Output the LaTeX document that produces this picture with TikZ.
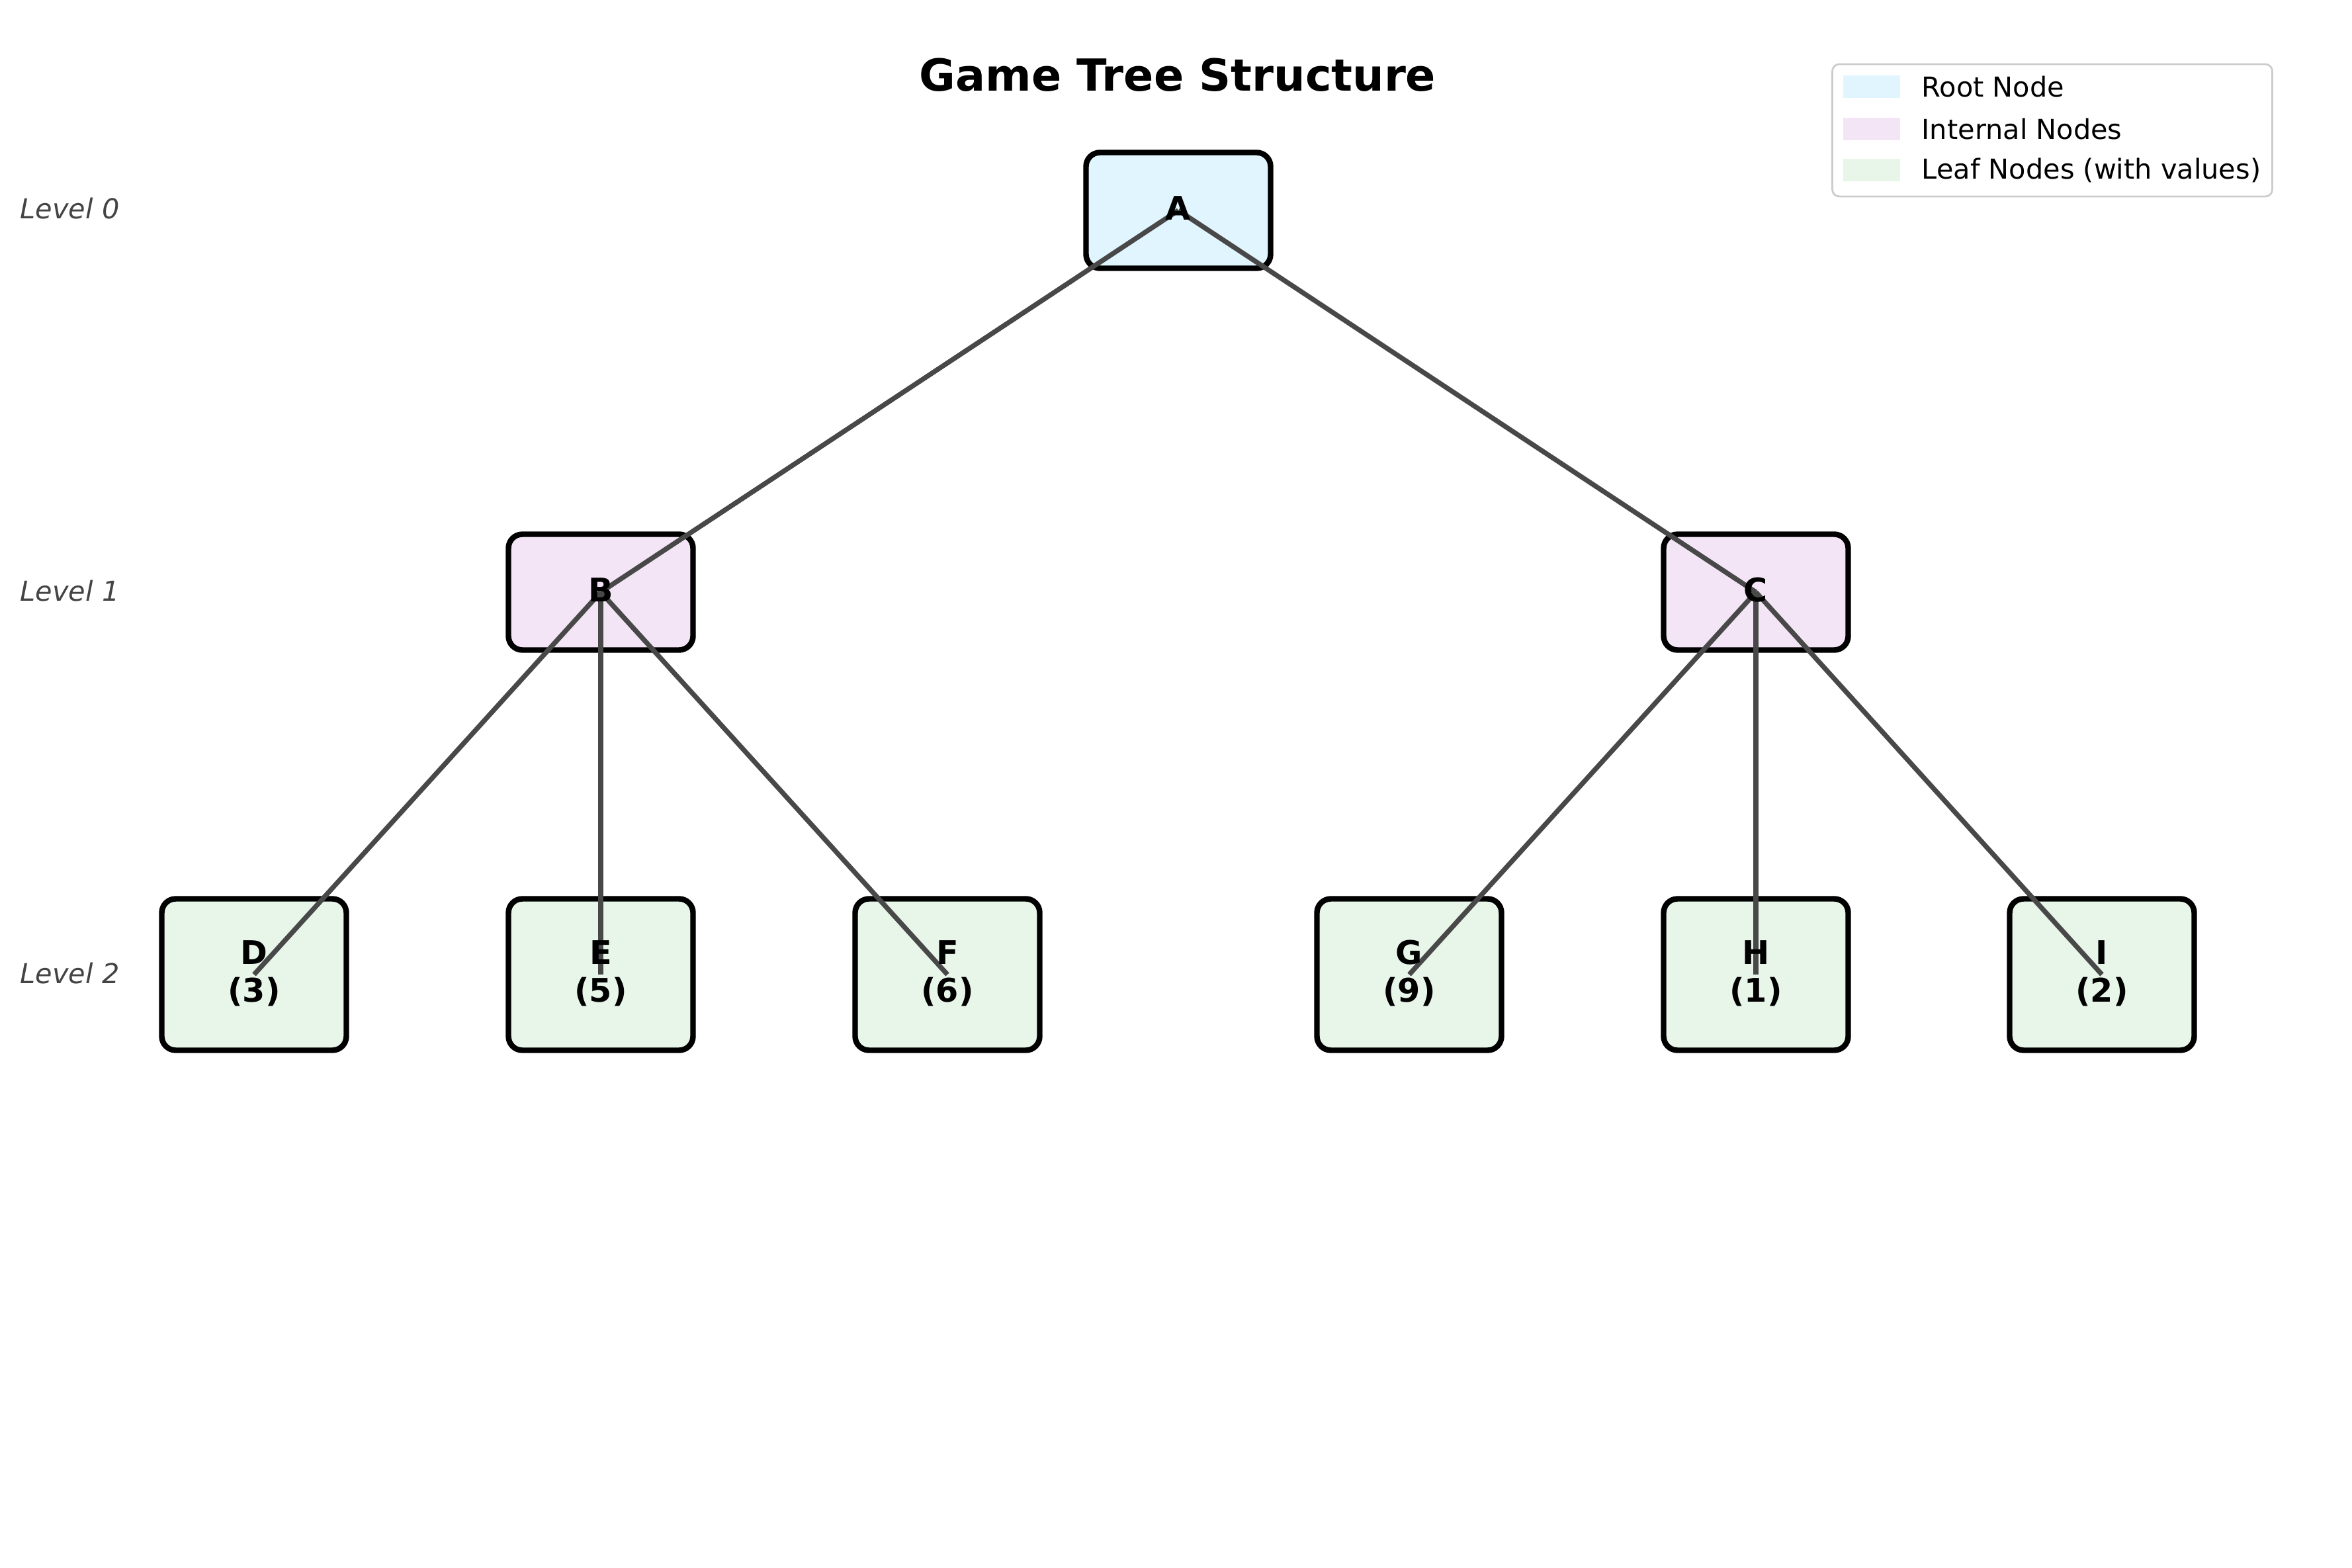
\documentclass[tikz,border=0pt]{standalone}
\usepackage{fontspec}
\setmainfont{DejaVu Sans}
\usepackage{xcolor}
\usepackage{tikz}
\usetikzlibrary{positioning}
\definecolor{rootfill}{HTML}{E1F5FE}
\definecolor{innerfill}{HTML}{F3E5F5}
\definecolor{leaffill}{HTML}{E8F5E9}
\definecolor{edgegrey}{HTML}{484848}
\definecolor{levelgrey}{HTML}{444444}
\definecolor{legendgrey}{HTML}{CCCCCC}

\begin{document}
\begin{tikzpicture}[
  rootbox/.style={draw=black, line width=2.4pt, rounded corners=6pt, fill=rootfill,
    minimum width=2.79cm, minimum height=1.75cm, inner sep=0pt},
  innerbox/.style={rootbox, fill=innerfill},
  leafbox/.style={rootbox, fill=leaffill, minimum height=2.29cm},
  lbl/.style={align=center, font=\fontsize{14}{16.2}\selectfont\bfseries, inner sep=0pt},
  edge/.style={draw=edgegrey, line width=2.1pt},
  level/.style={anchor=west, text=levelgrey, font=\fontsize{11.8}{14}\selectfont\itshape, inner sep=0pt},
  legtext/.style={anchor=west, font=\fontsize{11.8}{14}\selectfont, inner sep=0pt},
  patch/.style={minimum width=0.86cm, minimum height=0.34cm, inner sep=0pt}]

  \useasboundingbox (0,0) rectangle (35.55,-23.70);

  \node[font=\fontsize{19}{22}\selectfont\bfseries] (title) at (17.80,-1.13) {Game Tree Structure};

  % boxes
  \node[rootbox] (A) at (17.81,-3.18) {};
  \node[innerbox] (B) at (9.08,-8.95) {};
  \node[innerbox] (C) at (26.54,-8.95) {};
  \node[leafbox] (D) at (3.84,-14.73) {};
  \node[leafbox] (E) at (9.08,-14.73) {};
  \node[leafbox] (F) at (14.32,-14.73) {};
  \node[leafbox] (G) at (21.30,-14.73) {};
  \node[leafbox] (H) at (26.54,-14.73) {};
  \node[leafbox] (I) at (31.77,-14.73) {};

  % edges
  \draw[edge] (A.center) -- (B.center);
  \draw[edge] (A.center) -- (C.center);
  \draw[edge] (B.center) -- (D.center);
  \draw[edge] (B.center) -- (E.center);
  \draw[edge] (B.center) -- (F.center);
  \draw[edge] (C.center) -- (G.center);
  \draw[edge] (C.center) -- (H.center);
  \draw[edge] (C.center) -- (I.center);

  % labels
  \node[lbl] (Atxt) at ([yshift=0.03cm]A.center) {A};
  \node[lbl] (Btxt) at ([yshift=0.03cm]B.center) {B};
  \node[lbl] (Ctxt) at ([yshift=0.03cm]C.center) {C};
  \node[lbl] (Dtxt) at ([yshift=0.02cm]D.center) {D\\(3)};
  \node[lbl] (Etxt) at ([yshift=0.02cm]E.center) {E\\(5)};
  \node[lbl] (Ftxt) at ([yshift=0.02cm]F.center) {F\\(6)};
  \node[lbl] (Gtxt) at ([yshift=0.02cm]G.center) {G\\(9)};
  \node[lbl] (Htxt) at ([yshift=0.02cm]H.center) {H\\(1)};
  \node[lbl] (Itxt) at ([yshift=0.02cm]I.center) {I\\(2)};

  \node[level] (lev0) at (0.30,-3.15) {Level 0};
  \node[level] (lev1) at (0.30,-8.93) {Level 1};
  \node[level] (lev2) at (0.30,-14.71) {Level 2};

  % legend
  \node[draw=legendgrey, line width=0.8pt, rounded corners=3pt, fill=white,
    minimum width=6.65cm, minimum height=2.0cm, inner sep=0pt] (legend) at (31.02,-1.97) {};
  \node[patch, fill=rootfill] (rootpatch) at (28.29,-1.31) {};
  \node[patch, fill=innerfill] (innerpatch) at (28.29,-1.95) {};
  \node[patch, fill=leaffill] (leafpatch) at (28.29,-2.57) {};
  \node[legtext] (roottxt) at (29.04,-1.31) {Root Node};
  \node[legtext] (innertxt) at (29.04,-1.95) {Internal Nodes};
  \node[legtext] (leaftxt) at (29.04,-2.57) {Leaf Nodes (with values)};
\end{tikzpicture}
\end{document}
